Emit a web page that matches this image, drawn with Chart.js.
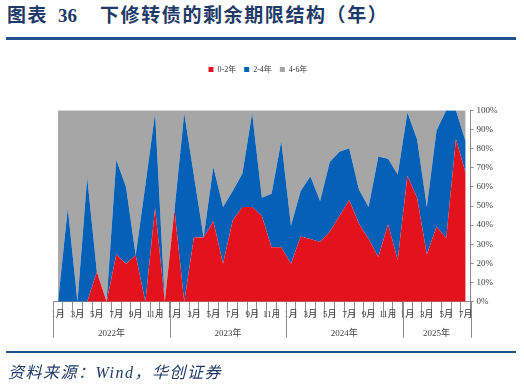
<!DOCTYPE html>
<html><head><meta charset="utf-8">
<script src="https://cdn.jsdelivr.net/npm/chart.js@4.4.1/dist/chart.umd.min.js"></script>
<style>
html,body{margin:0;padding:0;background:#fff;}
#wrap{position:relative;width:524px;height:387px;overflow:hidden;background:#fff;}
canvas{position:absolute;left:0;top:0;}
.t{position:absolute;top:4px;font-weight:bold;font-size:19px;line-height:24px;color:#1F3A68;white-space:nowrap;font-family:"Liberation Serif","Noto Sans CJK SC",serif;}
.rule{position:absolute;left:6px;width:510px;background:#24508F;}
.src{position:absolute;left:8px;top:363px;font-size:16px;line-height:20px;font-style:italic;color:#1F3A68;letter-spacing:1.5px;white-space:nowrap;font-family:"Liberation Serif","Noto Sans CJK SC",serif;}
</style></head>
<body><div id="wrap">
<div class="t" style="left:7px;letter-spacing:1.6px;">图表</div>
<div class="t" style="left:58px;">36</div>
<div class="t" style="left:100px;letter-spacing:1.6px;">下修转债的剩余期限结构（年）</div>
<div class="rule" style="top:37px;height:2.5px;"></div>
<canvas id="c" width="524" height="387"></canvas>
<div class="rule" style="top:351px;height:1.5px;"></div>
<div class="src">资料来源：Wind，华创证券</div>
</div>
<script>
const categories = ['2022-01','2022-02','2022-03','2022-04','2022-05','2022-06','2022-07','2022-08','2022-09','2022-10','2022-11','2022-12',
 '2023-01','2023-02','2023-03','2023-04','2023-05','2023-06','2023-07','2023-08','2023-09','2023-10','2023-11','2023-12',
 '2024-01','2024-02','2024-03','2024-04','2024-05','2024-06','2024-07','2024-08','2024-09','2024-10','2024-11','2024-12',
 '2025-01','2025-02','2025-03','2025-04','2025-05','2025-06','2025-07'];
const monthTicks = ['1月','','3月','','5月','','7月','','9月','','11月','',
 '1月','','3月','','5月','','7月','','9月','','11月','',
 '1月','','3月','','5月','','7月','','9月','','11月','',
 '1月','','3月','','5月','','7月'];
const yearLabels = ['2022年','2023年','2024年','2025年'];
const yearStarts = [0,12,24,36];
const seriesNames = ['0-2年','2-4年','4-6年'];
const share02 = [0,0,0,0,15.5,0,24.6,19.8,24.3,0,49,0,
 48,0,33.6,33.6,42,19.8,42.6,49.5,49.5,44.8,28.4,28.4,
 19.8,34,32.8,31.2,36.5,44.8,53.1,40.9,32.8,23.3,40.5,21.9,
 65.8,54.2,24.7,39.1,33.3,85,67.2];
const share24 = [0,48.8,0,65,0,0,49.4,40.2,0,61,49.5,0,
 0,98.5,32.4,0,28.5,29.7,15.2,17.5,49.1,9.5,28,55.6,
 19.9,23.8,32.7,21.4,36.5,33.6,27.1,17.7,16.7,52.6,34.2,44.5,
 33,30.6,24.8,50.3,66.7,15,16.4];
const share46 = [100,51.2,100,35,84.5,100,26,40,75.7,39,1.5,100,
 52,1.5,34,66.4,29.5,50.5,42.2,33,1.4,45.7,43.6,16,
 60.3,42.2,34.5,47.4,27,21.6,19.8,41.4,50.5,24.1,25.3,33.6,
 1.2,15.2,50.5,10.6,0,0,16.4];
const yTicks = [0,10,20,30,40,50,60,70,80,90,100];

const colors = ['#E3121D','#0561B8','#A6A6A6'];
const axisColor = '#8C8C8C';
const textColor = '#404040';
const serif = '"Liberation Serif","Noto Sans CJK SC",serif';

const yearPlugin = {
  id: 'years',
  afterDraw(chart) {
    const x = chart.scales.x;
    const ctx = chart.ctx;
    const half = (x.getPixelForValue(1) - x.getPixelForValue(0)) / 2;
    const bounds = yearStarts.map(i => x.getPixelForValue(i) - half);
    bounds.push(x.getPixelForValue(categories.length - 1) + half);
    ctx.save();
    ctx.strokeStyle = axisColor;
    ctx.lineWidth = 1;
    bounds.forEach(b => {
      const px = Math.round(b) + 0.5;
      ctx.beginPath();
      ctx.moveTo(px, x.top);
      ctx.lineTo(px, x.top + 36);
      ctx.stroke();
    });
    ctx.fillStyle = textColor;
    ctx.font = '9px ' + serif;
    ctx.textAlign = 'center';
    ctx.textBaseline = 'middle';
    yearLabels.forEach((lab, k) => {
      ctx.fillText(lab, (bounds[k] + bounds[k + 1]) / 2, x.top + 31.5);
    });
    ctx.restore();
  }
};

new Chart(document.getElementById('c'), {
  type: 'line',
  data: {
    labels: categories,
    datasets: [share02, share24, share46].map((d, k) => ({
      label: seriesNames[k],
      data: d,
      backgroundColor: colors[k],
      borderColor: colors[k],
      borderWidth: 0,
      pointRadius: 0,
      pointHoverRadius: 0,
      tension: 0,
      fill: k === 0 ? 'origin' : '-1',
      xAxisID: 'x',
      yAxisID: 'y'
    }))
  },
  options: {
    responsive: false,
    devicePixelRatio: 1,
    animation: false,
    layout: { padding: { left: 0, right: 8, top: 57.5, bottom: 0 } },
    plugins: {
      tooltip: { enabled: false },
      legend: {
        position: 'top',
        labels: { boxWidth: 5, boxHeight: 5, padding: 8, color: textColor, font: { size: 8, family: serif } }
      }
    },
    scales: {
      x: {
        type: 'category',
        position: 'bottom',
        offset: true,
        grid: { display: true, drawOnChartArea: false, drawTicks: true, tickLength: 16, offset: true, color: axisColor, lineWidth: 1 },
        border: { display: true, color: axisColor, width: 1 },
        ticks: {
          autoSkip: false, maxRotation: 0, minRotation: 0, padding: -8,
          color: textColor, font: { size: 9, family: serif },
          callback: (v, i) => monthTicks[i]
        },
        afterFit: s => { s.height = 85.3; }
      },
      xT: {
        type: 'category', axis: 'x', position: 'top', display: true,
        grid: { display: false }, ticks: { display: false }, border: { display: false },
        afterFit: s => { s.height = 26.8; }
      },
      yL: {
        type: 'linear', axis: 'y', position: 'left', display: true,
        grid: { display: false }, ticks: { display: false }, border: { display: false },
        afterFit: s => { s.width = 53.2; }
      },
      y: {
        type: 'linear',
        position: 'right',
        stacked: true,
        min: 0, max: 100,
        afterBuildTicks: s => { s.ticks = yTicks.map(v => ({ value: v })); },
        grid: { display: true, drawOnChartArea: false, drawTicks: true, tickLength: 3, color: axisColor },
        border: { display: true, color: axisColor, width: 1 },
        ticks: { padding: 3, color: textColor, font: { size: 9, family: serif }, callback: v => v + '%' },
        afterFit: s => { s.width = 45.5; }
      }
    }
  },
  plugins: [yearPlugin]
});
</script>
</body></html>
